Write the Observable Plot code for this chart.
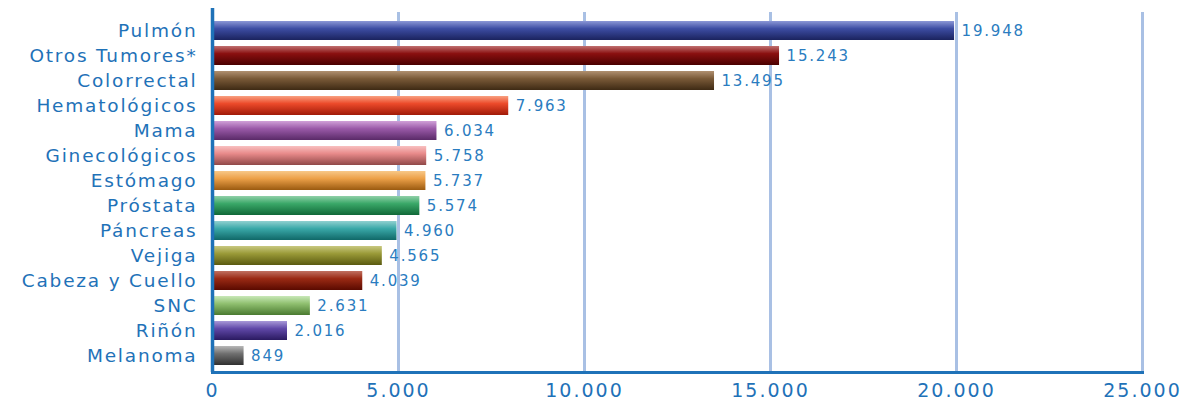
<!DOCTYPE html>
<html>
<head>
<meta charset="utf-8">
<script src="https://cdn.jsdelivr.net/npm/d3@7"></script>
<script src="https://cdn.jsdelivr.net/npm/@observablehq/plot@0.6"></script>
<style>
  html, body { margin: 0; padding: 0; background: #fff; }
  #chart svg { display: block; }
  #chart g[aria-label="text"] text { letter-spacing: 1.8px; }
  #chart g[aria-label="y-axis tick label"] text { letter-spacing: 1.8px; }
  #chart g[aria-label="x-axis tick label"] text { letter-spacing: 2px; }
</style>
</head>
<body>
<div id="chart"></div>
<script>
const categories = ["Pulmón","Otros Tumores*","Colorrectal","Hematológicos","Mama","Ginecológicos","Estómago","Próstata","Páncreas","Vejiga","Cabeza y Cuello","SNC","Riñón","Melanoma"];
const values = [19948,15243,13495,7963,6034,5758,5737,5574,4960,4565,4039,2631,2016,849];
const colorTop = ["#8b97d6","#c07070","#b09070","#f8a080","#d0a0d8","#f8c0c0","#f8c888","#90d0a8","#90d0d0","#c8c880","#c07060","#c8e8b8","#a898d8","#b8b8b8"];
const colorMid = ["#3d4da3","#8a1010","#7a5a38","#ec4a2a","#9a5aa8","#e88a8a","#eca048","#3aa868","#3aa8a8","#9a9a38","#9a2a14","#90c070","#6048a8","#707070"];
const colorBottom = ["#1b235e","#4a0000","#3e2a14","#a01a08","#5a2a68","#904848","#9a5a10","#106838","#106868","#5a5a10","#5a0a00","#4a7a30","#2a1a60","#303030"];
const xTicks = [0,5000,10000,15000,20000,25000];

const data = categories.map((c, i) => ({cat: c, value: values[i], grad: `url(#grad${i})`}));
const fmt = d3.formatLocale({decimal: ",", thousands: ".", grouping: [3], currency: ["", ""]}).format(",d");
const blue = "#1f72b8";
const font = "DejaVu Sans, sans-serif";

const chart = Plot.plot({
  width: 1195,
  height: 401,
  marginLeft: 212,
  marginRight: 53,
  marginTop: 12,
  marginBottom: 29,
  style: {fontFamily: font, background: "#fff"},
  color: {type: "identity"},
  x: {domain: [0, 25000], label: null},
  y: {domain: categories, range: [14.5, 371], paddingInner: 0.26, paddingOuter: 0.13, label: null},
  marks: [
    Plot.gridX(xTicks, {stroke: "#a9c0e4", strokeWidth: 3, strokeOpacity: 1}),
    Plot.barX(data, {x: "value", y: "cat", fill: "grad"}),
    Plot.text(data, {x: "value", y: "cat", text: d => fmt(d.value), dx: 7, textAnchor: "start", fill: "#2a7cc0", fontSize: 15}),
    Plot.axisX({ticks: xTicks, tickFormat: fmt, tickSize: 0, tickPadding: 11, fontSize: 19, fill: blue}),
    Plot.axisY({tickSize: 0, tickPadding: 15, fontSize: 18.5, fill: blue}),
    Plot.ruleX([0], {stroke: blue, strokeWidth: 3.5, insetTop: -4}),
    Plot.frame({anchor: "bottom", stroke: blue, strokeWidth: 3})
  ]
});

const svg = d3.select(chart);
const defs = svg.insert("defs", ":first-child");
categories.forEach((c, i) => {
  const g = defs.append("linearGradient").attr("id", `grad${i}`).attr("x1", 0).attr("y1", 0).attr("x2", 0).attr("y2", 1);
  g.append("stop").attr("offset", "0%").attr("stop-color", colorTop[i]);
  g.append("stop").attr("offset", "40%").attr("stop-color", colorMid[i]);
  g.append("stop").attr("offset", "100%").attr("stop-color", colorBottom[i]);
});
document.getElementById("chart").appendChild(chart);
</script>
</body>
</html>
